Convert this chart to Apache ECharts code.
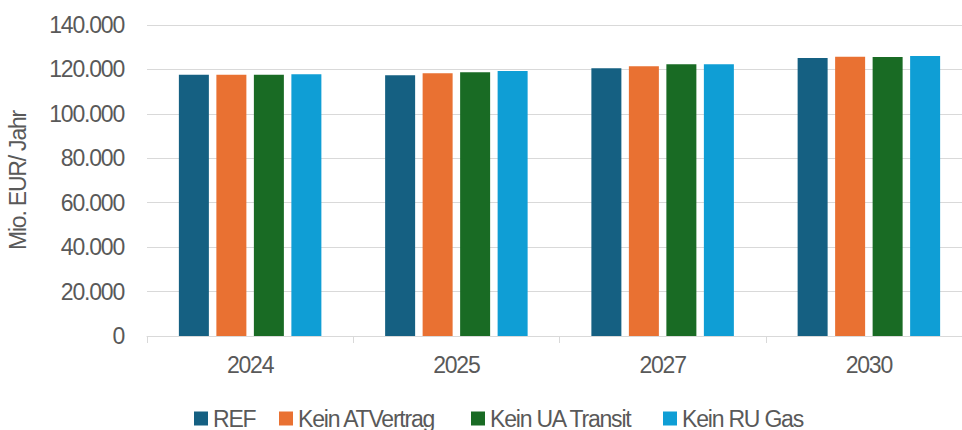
<!DOCTYPE html>
<html>
<head>
<meta charset="utf-8">
<script src="https://cdn.jsdelivr.net/npm/echarts@6/dist/echarts.min.js"></script>
<style>
  html, body { margin: 0; padding: 0; background: #fff; }
  #chart { width: 962px; height: 430px; }
  /* enge Laufweite wie im Original */
  #chart svg text { letter-spacing: -1.2px; }
</style>
</head>
<body>
<div id="chart"></div>
<script>
// Kategorien und Werte (Mio. EUR / Jahr)
const years = ['2024', '2025', '2027', '2030'];
const seriesNames = ['REF', 'Kein ATVertrag', 'Kein UA Transit', 'Kein RU Gas'];
const refValues = [117600, 117400, 120500, 125200];
const atValues = [117600, 118300, 121400, 125700];
const uaValues = [117600, 118700, 122300, 125600];
const ruValues = [117800, 119300, 122300, 126000];
const colors = ['#156082', '#E97132', '#196B24', '#0F9ED5'];

const font = '"Liberation Sans", Arial, sans-serif';
const textColor = '#595959';
const fontSize = 23;

// deutsches Zahlenformat: 120.000
function formatNumber(v) {
    return String(v).replace(/\B(?=(\d{3})+(?!\d))/g, '.');
}

const chart = echarts.init(document.getElementById('chart'), null, { renderer: 'svg' });

const allValues = [refValues, atValues, uaValues, ruValues];

// Legendeneintraege einzeln platziert
const legendLeft = [189, 274, 466, 658];
const legends = seriesNames.map((name, i) => ({
    left: legendLeft[i],
    top: 402,
    itemWidth: 14,
    itemHeight: 14,
    icon: 'rect',
    textStyle: { color: textColor, fontSize: fontSize, fontFamily: font },
    data: [name]
}));

const option = {
    animation: false,
    color: colors,
    grid: { left: 147, right: -10, top: 25, bottom: 94, outerBoundsMode: 'none' },
    legend: legends,
    xAxis: {
        type: 'category',
        data: years,
        axisLine: { lineStyle: { color: '#d9d9d9', width: 1 } },
        axisTick: { show: true, length: 7, lineStyle: { color: '#d9d9d9' } },
        axisLabel: { color: textColor, fontSize: fontSize, fontFamily: font, margin: 17 }
    },
    yAxis: {
        type: 'value',
        min: 0,
        max: 140000,
        interval: 20000,
        name: 'Mio. EUR/ Jahr',
        nameLocation: 'middle',
        nameGap: 116,
        nameTextStyle: { color: textColor, fontSize: fontSize, fontFamily: font },
        axisLine: { show: false },
        axisTick: { show: false },
        axisLabel: {
            color: textColor, fontSize: fontSize, fontFamily: font, margin: 23,
            formatter: formatNumber
        },
        splitLine: { lineStyle: { color: '#d9d9d9', width: 1 } }
    },
    series: seriesNames.map((name, i) => ({
        name: name,
        type: 'bar',
        barWidth: 30,
        barGap: '25%',
        data: allValues[i],
        itemStyle: { color: colors[i] }
    }))
};

chart.setOption(option);
</script>
</body>
</html>
